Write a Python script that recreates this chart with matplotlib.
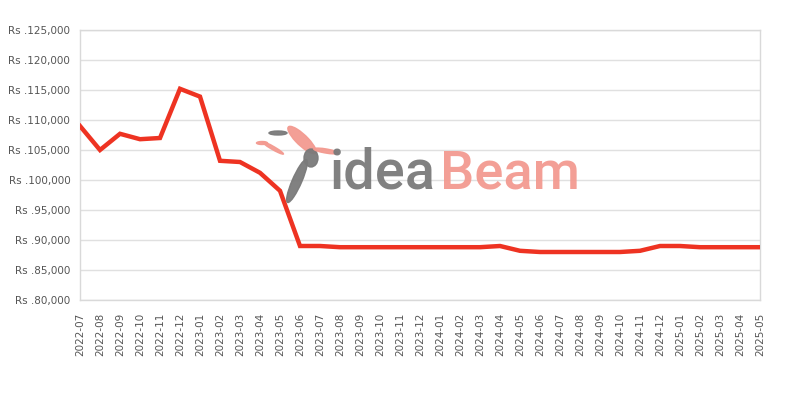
import matplotlib
matplotlib.use("Agg")
import matplotlib.pyplot as plt
from matplotlib.patches import Ellipse
from matplotlib.ticker import FuncFormatter, MultipleLocator

months = ["2022-07", "2022-08", "2022-09", "2022-10", "2022-11", "2022-12",
          "2023-01", "2023-02", "2023-03", "2023-04", "2023-05", "2023-06",
          "2023-07", "2023-08", "2023-09", "2023-10", "2023-11", "2023-12",
          "2024-01", "2024-02", "2024-03", "2024-04", "2024-05", "2024-06",
          "2024-07", "2024-08", "2024-09", "2024-10", "2024-11", "2024-12",
          "2025-01", "2025-02", "2025-03", "2025-04", "2025-05"]
prices = [109000, 105000, 107700, 106800, 107000, 115200,
          113900, 103200, 103000, 101200, 98200, 89000,
          89000, 88800, 88800, 88800, 88800, 88800,
          88800, 88800, 88800, 89000, 88200, 88000,
          88000, 88000, 88000, 88000, 88200, 89000,
          89000, 88800, 88800, 88800, 88800]

fig = plt.figure(figsize=(8, 4), dpi=100)
ax = fig.add_axes([0.1, 0.25, 0.85, 0.675])

x = list(range(len(months)))
ax.plot(x, prices, color="#ee3322", linewidth=3.2, solid_joinstyle="miter", zorder=5)

ax.set_xlim(0, len(months) - 1)
ax.set_ylim(80000, 125000)
ax.yaxis.set_major_locator(MultipleLocator(5000))
ax.yaxis.set_major_formatter(FuncFormatter(lambda v, p: "Rs .{:,.0f}".format(v)))
ax.set_xticks(x)
ax.set_xticklabels(months, rotation=90)
ax.tick_params(axis="both", length=0, labelsize=7.5, colors="#555555")
ax.tick_params(axis="y", pad=7)
ax.tick_params(axis="x", pad=9)
ax.grid(axis="y", color="#e0e0e0", linewidth=1, zorder=1)
ax.set_axisbelow(True)
for s in ax.spines.values():
    s.set_color("#d9d9d9")
    s.set_linewidth(1)

# watermark (logo)
def fitted_text(xl, xr, ybase, s, color):
    t = fig.text(xl / 800, 1 - ybase / 400, s, color=color, fontsize=40,
                 family=["Roboto", "DejaVu Sans"], fontweight="medium",
                 ha="left", va="baseline", alpha=0.95, zorder=0)
    for _ in range(2):
        fig.canvas.draw()
        w = t.get_window_extent().width
        t.set_fontsize(t.get_fontsize() * (xr - xl) / w)
    return t

fitted_text(330, 436, 189, "idea", "#7a7a7a")
fitted_text(440, 580, 189, "Beam", "#f39a90")

bird = [
    ((302, 140), 14, 30, 25, "#f39a90"),
    ((297, 181), 10, 44, -12, "#7a7a7a"),
    ((311, 158), 14, 18, 0, "#7a7a7a"),
    ((278, 133), 18, 4, 0, "#7a7a7a"),
    ((262, 143), 11, 3, 0, "#f39a90"),
    ((273, 148), 5, 16, 40, "#f39a90"),
    ((326, 151), 26, 4, -20, "#f39a90"),
]
for (cx, cy), w, h, ang, col in bird:
    e = Ellipse((cx / 800, 1 - cy / 400), w / 800, h / 400, angle=ang,
                transform=fig.transFigure, color=col, alpha=0.95, zorder=0)
    fig.patches.append(e)

fig.savefig("out.png", dpi=100)
